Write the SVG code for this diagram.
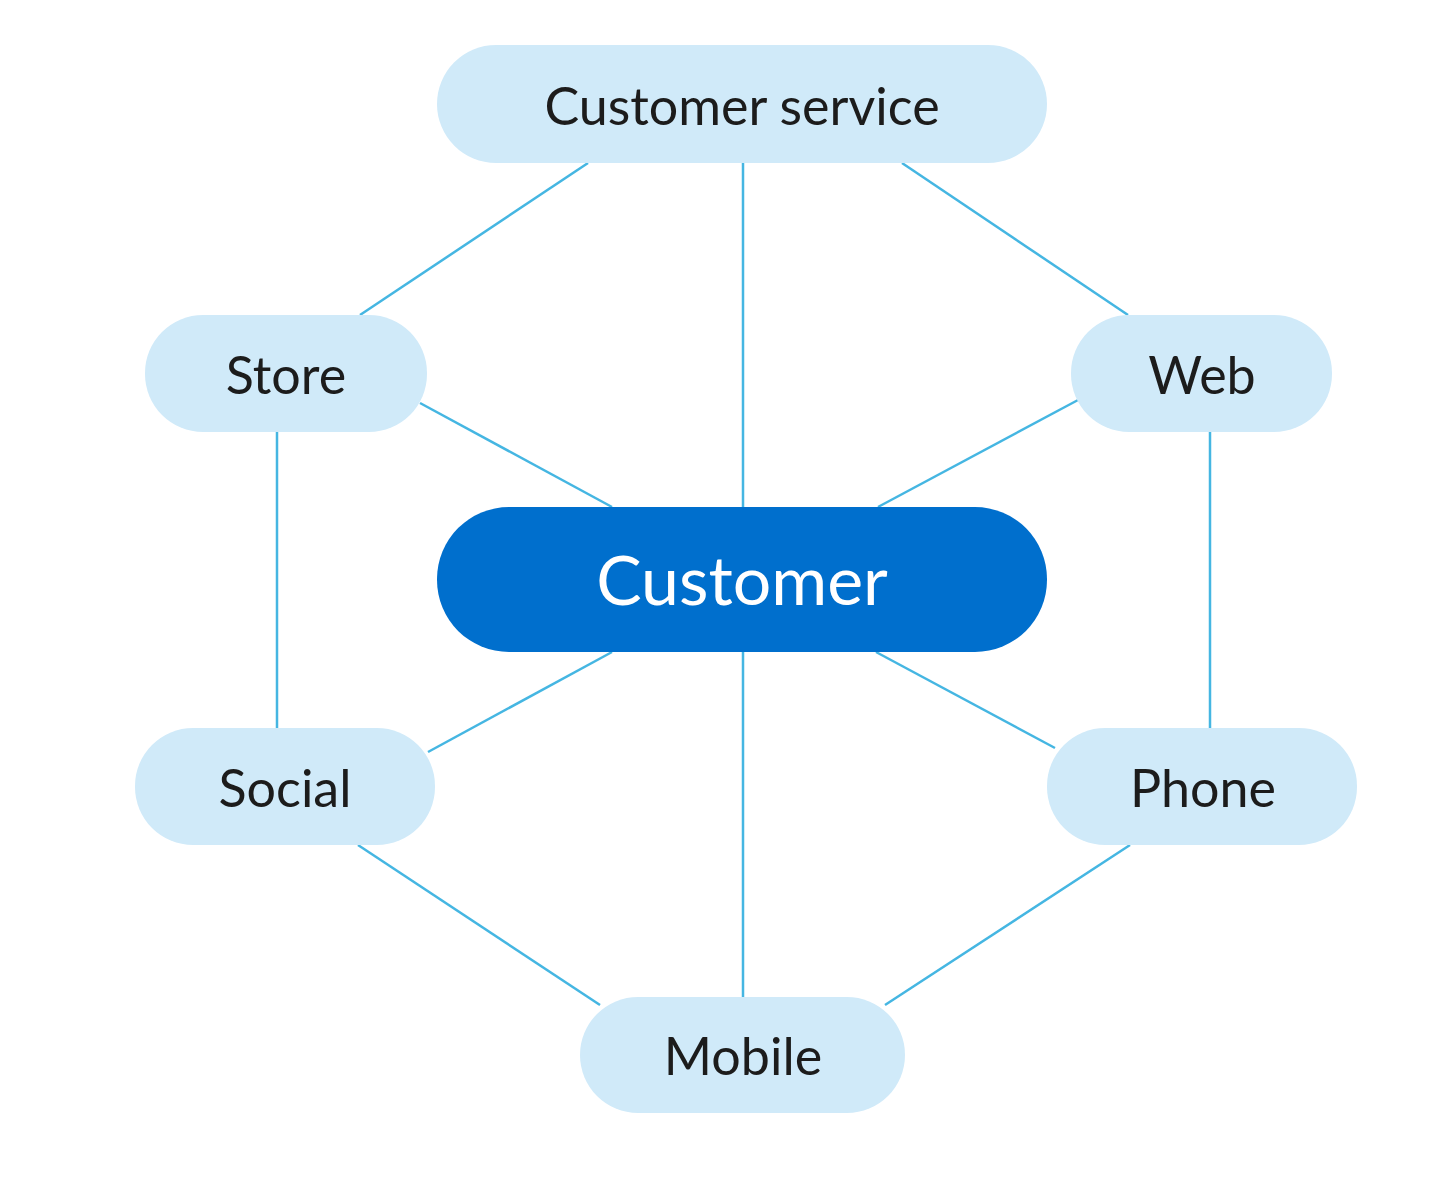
<svg xmlns="http://www.w3.org/2000/svg" width="1440" height="1198" viewBox="0 0 1440 1198">
<style>
.n{fill:#d0eaf9}
.t{font-family:Lato,"Noto Sans",sans-serif;font-size:52px;fill:#1c1c1c;text-anchor:middle;dominant-baseline:central}
.c line{stroke:#45b6e2;stroke-width:2.5}
</style>
<rect width="1440" height="1198" fill="#fff"/>
<g class="c" id="connectors">
<line x1="588" y1="163" x2="360" y2="315"/>
<line x1="743" y1="163" x2="743" y2="507"/>
<line x1="902" y1="163" x2="1128" y2="315"/>
<line x1="420" y1="403" x2="612" y2="507"/>
<line x1="1078" y1="400" x2="878" y2="507"/>
<line x1="277" y1="432" x2="277" y2="728"/>
<line x1="1210" y1="432" x2="1210" y2="728"/>
<line x1="612" y1="652" x2="428" y2="752"/>
<line x1="876" y1="652" x2="1055" y2="748"/>
<line x1="743" y1="652" x2="743" y2="997"/>
<line x1="358" y1="845" x2="600" y2="1005"/>
<line x1="1130" y1="845" x2="885" y2="1005"/>
</g>
<g id="cs"><rect class="n" x="437" y="45" width="610" height="118" rx="59"/><text class="t" x="742" y="105">Customer service</text></g>
<g id="store"><rect class="n" x="145" y="315" width="282" height="117" rx="58"/><text class="t" x="286" y="374">Store</text></g>
<g id="web"><rect class="n" x="1071" y="315" width="261" height="117" rx="58"/><text class="t" x="1202" y="374">Web</text></g>
<g id="customer"><rect x="437" y="507" width="610" height="145" rx="72" fill="#006fcd"/><text class="t" x="742" y="578" style="fill:#fff;font-size:68px">Customer</text></g>
<g id="social"><rect class="n" x="135" y="728" width="300" height="117" rx="58"/><text class="t" x="285" y="787">Social</text></g>
<g id="phone"><rect class="n" x="1047" y="728" width="310" height="117" rx="58"/><text class="t" x="1203" y="787">Phone</text></g>
<g id="mobile"><rect class="n" x="580" y="997" width="325" height="116" rx="58"/><text class="t" x="743" y="1055">Mobile</text></g>
</svg>
